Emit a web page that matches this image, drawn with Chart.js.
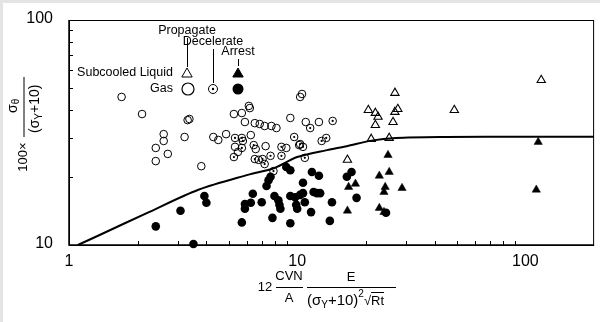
<!DOCTYPE html>
<html>
<head>
<script src="https://cdn.jsdelivr.net/npm/chart.js"></script>
<style>
  body { margin: 0; background: #e4e4e4; }
  #wrap { position: absolute; left: 3px; top: 3px; width: 597px; height: 319px; background: #fff; }
</style>
</head>
<body>
<div id="wrap"><canvas id="chart" width="597" height="319"></canvas></div>
<script>
  // tick labels
  const xTicks = [1, 10, 100];
  const yTicks = [10, 100];

  // boundary curve
  const curveX = [1.094, 1.362, 2.24, 3.69, 6.07, 7.95, 10.0, 13.5, 16.5, 21.1, 27.1, 44.6, 100, 200];
  const curveY = [10.0, 11.08, 14.0, 17.6, 20.5, 22.0, 24.6, 26.4, 27.5, 29.1, 29.9, 30.2, 30.3, 30.3];

  // gas, propagate (open circles)
  const gasPropagate = [[1.70,45.5],[2.09,38.2],[3.31,35.9],[3.37,36.3],[2.60,31.1],[2.60,29.0],[3.21,30.2],
    [2.40,27.0],[2.71,25.4],[2.40,23.6],[3.80,22.4],[5.28,38.2],[5.72,38.6],[6.14,41.5],[6.20,40.6],
    [9.33,36.7],[5.90,35.2],[6.52,34.8],[6.85,34.5],[7.20,33.8],[7.71,33.8],[8.11,33.1],[4.88,31.1],
    [4.29,30.2],[4.51,29.3],[6.26,30.8],[5.34,27.3],[5.50,25.9],[6.58,26.7],[7.27,27.5],[8.96,27.0],
    [10.5,46.9],[10.3,45.5],[10.9,35.2],[12.45,35.2],[10.2,27.8]];

  // gas, decelerate (dotted circles)
  const gasDecelerate = [[5.34,29.9],[5.72,29.9],[5.78,29.0],[5.72,27.0],[6.45,27.8],[8.53,27.3],[9.70,30.2],
    [10.6,27.3],[10.3,28.1],[11.4,33.1],[14.3,35.6],[12.8,29.0],[13.4,29.9],[5.28,24.6],[6.52,24.1],
    [6.78,23.9],[7.05,24.1],[7.64,24.9],[7.20,22.9],[8.53,24.9],[10.8,24.4],[7.87,21.3]];

  // gas, arrest (filled circles)
  const gasArrest = [[2.40,12.1],[3.08,14.2],[3.92,16.5],[4.00,15.4],[3.51,10.1],[5.72,12.6],[5.90,15.2],
    [5.90,14.5],[6.39,16.9],[6.26,15.4],[6.99,15.5],[7.79,13.2],[7.34,18.3],[7.49,19.4],[7.64,20.1],
    [7.95,16.5],[8.27,15.8],[8.36,15.1],[8.44,14.5],[9.33,16.5],[9.33,12.5],[8.96,22.2],[9.33,21.5],
    [9.80,16.3],[9.90,15.1],[10.0,14.5],[10.3,16.7],[10.6,17.0],[10.8,15.5],[11.6,21.1],[12.45,20.3],
    [10.6,18.9],[11.8,17.2],[12.2,17.0],[12.6,17.0],[11.5,14.0],[14.2,15.5],[13.9,12.8],[16.5,20.1],
    [17.3,21.1],[18.2,16.2],[24.5,13.9]];

  // subcooled liquid, propagate (open triangles)
  const liqPropagate = [[26.8,47.4],[20.5,39.8],[22.0,38.6],[22.6,37.1],[22.0,34.1],[26.8,39.0],[27.6,40.2],
    [26.3,35.2],[48.8,39.8],[21.1,29.6],[25.3,29.9],[16.6,23.9],[117.3,54.1]];

  // subcooled liquid, arrest (filled triangles)
  const liqArrest = [[25.0,25.1],[22.9,20.3],[25.3,21.1],[18.0,18.7],[16.8,18.1],[24.3,18.1],[24.0,17.2],
    [28.8,17.9],[16.6,14.2],[22.9,14.6],[24.0,14.0],[113.8,28.7],[111.6,17.6]];

  const pts = arr => arr.map(p => ({x: p[0], y: p[1]}));
  const FONT = '"Liberation Sans", Arial, sans-serif';

  function txt(ctx, s, x, y, size, align) {
    ctx.font = size + 'px ' + FONT;
    ctx.textAlign = align || 'center';
    ctx.textBaseline = 'middle';
    ctx.fillText(s, x, y);
  }

  const frame = {
    id: 'frame',
    beforeDatasetsDraw(chart) {
      const {ctx, chartArea: a, scales: {x, y}} = chart;
      ctx.save();
      ctx.strokeStyle = '#000';
      ctx.lineWidth = 1;
      ctx.strokeRect(a.left + 0.5, a.top + 0.5, a.right - a.left - 1, a.bottom - a.top);
      ctx.lineWidth = 1.5;
      ctx.beginPath();
      ctx.moveTo(a.left, a.top); ctx.lineTo(a.left, a.bottom); ctx.lineTo(a.right, a.bottom);
      ctx.stroke();
      ctx.lineWidth = 1;
      ctx.beginPath();
      for (let d = 1; d <= 100; d *= 10) {
        for (let k = 2; k <= 9; k++) {
          const v = d * k;
          if (v >= 200) continue;
          const px = Math.round(x.getPixelForValue(v)) + 0.5;
          ctx.moveTo(px, a.bottom); ctx.lineTo(px, a.bottom - 4);
        }
      }
      for (let k = 2; k <= 9; k++) {
        const py = Math.round(y.getPixelForValue(10 * k)) + 0.5;
        ctx.moveTo(a.left, py); ctx.lineTo(a.left + 4, py);
      }
      ctx.stroke();
      ctx.restore();
    },
    afterDatasetsDraw(chart) {
      // centre dot of the decelerate markers
      const ctx = chart.ctx;
      ctx.save();
      ctx.fillStyle = '#000';
      chart.getDatasetMeta(2).data.forEach(el => {
        ctx.beginPath(); ctx.arc(el.x, el.y, 1.1, 0, Math.PI * 2); ctx.fill();
      });
      ctx.restore();
    },
    afterDraw(chart) {
      const {ctx, chartArea: a, scales: {x, y}} = chart;
      ctx.save();
      ctx.fillStyle = '#000';
      ctx.strokeStyle = '#000';
      xTicks.forEach(v => txt(ctx, String(v), x.getPixelForValue(v), a.bottom + 17, 16));
      yTicks.forEach(v => txt(ctx, String(v), a.left - 16, y.getPixelForValue(v) - 1, 16, 'right'));

      let cx, by;
      const seg = (s, size, dy) => {
        ctx.font = size + 'px ' + FONT; ctx.textAlign = 'left'; ctx.textBaseline = 'middle';
        ctx.fillText(s, cx, by + dy); cx += ctx.measureText(s).width;
      };

      // x axis title
      ctx.lineWidth = 1;
      txt(ctx, '12', 262, 284, 13);
      txt(ctx, 'CVN', 286, 273, 13);
      txt(ctx, 'A', 286, 295, 13);
      txt(ctx, 'E', 348, 274, 13);
      ctx.beginPath();
      ctx.moveTo(273, 284.5); ctx.lineTo(300, 284.5);
      ctx.moveTo(304, 284.5); ctx.lineTo(393, 284.5);
      ctx.stroke();
      // denominator (σY+10)²√Rt
      cx = 304; by = 298;
      seg('(σ', 15, 0); seg('Y', 10, 4); seg('+10)', 15, 0); seg('2', 10, -7);
      seg('√', 13, 0);
      const rx = cx;
      seg('Rt', 13, 0);
      ctx.beginPath(); ctx.moveTo(rx, by - 8.5); ctx.lineTo(cx, by - 8.5); ctx.stroke();

      // y axis title, rotated
      ctx.save();
      ctx.translate(20.5, 154);
      ctx.rotate(-Math.PI / 2);
      txt(ctx, '100×', 0, 0, 13);
      ctx.beginPath(); ctx.moveTo(20, 0.5); ctx.lineTo(80, 0.5); ctx.stroke();
      // numerator σθ
      cx = 44; by = -10;
      seg('σ', 14, 0); seg('θ', 10, 3);
      // denominator (σY+10)
      cx = 24; by = 12;
      seg('(σ', 14, 0); seg('Y', 10, 4); seg('+10)', 14, 0);
      ctx.restore();

      // legend
      txt(ctx, 'Propagate', 184, 28, 12.5);
      txt(ctx, 'Decelerate', 210, 39, 12.5);
      txt(ctx, 'Arrest', 235, 49, 12.5);
      txt(ctx, 'Subcooled Liquid', 170, 70, 12.5, 'right');
      txt(ctx, 'Gas', 170, 86, 12.5, 'right');
      ctx.lineWidth = 1;
      ctx.beginPath();
      ctx.moveTo(184.5, 35); ctx.lineTo(184.5, 64);
      ctx.moveTo(210.5, 46); ctx.lineTo(210.5, 80);
      ctx.moveTo(235.5, 56); ctx.lineTo(235.5, 63);
      ctx.stroke();
      const H = Chart.helpers;
      ctx.fillStyle = '#fff';
      H.drawPoint(ctx, {pointStyle: 'triangle', radius: 6, borderWidth: 1.2}, 184, 71);
      ctx.fillStyle = '#000';
      ctx.beginPath(); ctx.arc(185, 86, 6, 0, Math.PI * 2); ctx.lineWidth = 1.2; ctx.stroke();
      ctx.beginPath(); ctx.arc(210, 86, 4.5, 0, Math.PI * 2); ctx.lineWidth = 1; ctx.stroke();
      ctx.beginPath(); ctx.arc(210, 86, 1.2, 0, Math.PI * 2); ctx.fill();
      H.drawPoint(ctx, {pointStyle: 'triangle', radius: 6, borderWidth: 1}, 235, 71);
      ctx.beginPath(); ctx.arc(235, 86, 5.5, 0, Math.PI * 2); ctx.fill();
      ctx.restore();
    }
  };

  new Chart(document.getElementById('chart'), {
    type: 'scatter',
    data: {
      datasets: [
        {label: 'boundary', type: 'line', data: curveX.map((v, i) => ({x: v, y: curveY[i]})),
          borderColor: '#000', borderWidth: 2, pointRadius: 0, fill: false, tension: 0.3, order: 5},
        {label: 'Gas Propagate', data: pts(gasPropagate), pointStyle: 'circle', pointRadius: 3.8,
          backgroundColor: 'rgba(0,0,0,0)', borderColor: '#000', borderWidth: 1, clip: false},
        {label: 'Gas Decelerate', data: pts(gasDecelerate), pointStyle: 'circle', pointRadius: 3.8,
          backgroundColor: 'rgba(0,0,0,0)', borderColor: '#000', borderWidth: 1, clip: false},
        {label: 'Gas Arrest', data: pts(gasArrest), pointStyle: 'circle', pointRadius: 4.3,
          backgroundColor: '#000', borderColor: '#000', borderWidth: 0, clip: false},
        {label: 'Subcooled Liquid Propagate', data: pts(liqPropagate), pointStyle: 'triangle', pointRadius: 4.8,
          backgroundColor: 'rgba(0,0,0,0)', borderColor: '#000', borderWidth: 1.1, clip: false},
        {label: 'Subcooled Liquid Arrest', data: pts(liqArrest), pointStyle: 'triangle', pointRadius: 4.8,
          backgroundColor: '#000', borderColor: '#000', borderWidth: 0.5, clip: false}
      ]
    },
    options: {
      responsive: false,
      animation: false,
      layout: {padding: {left: 66, top: 17, right: 1, bottom: 77}},
      plugins: {legend: {display: false}, tooltip: {enabled: false}},
      scales: {
        x: {type: 'logarithmic', min: 1, max: 200, display: false},
        y: {type: 'logarithmic', min: 10, max: 100, display: false}
      }
    },
    plugins: [frame]
  });
</script>
</body>
</html>
